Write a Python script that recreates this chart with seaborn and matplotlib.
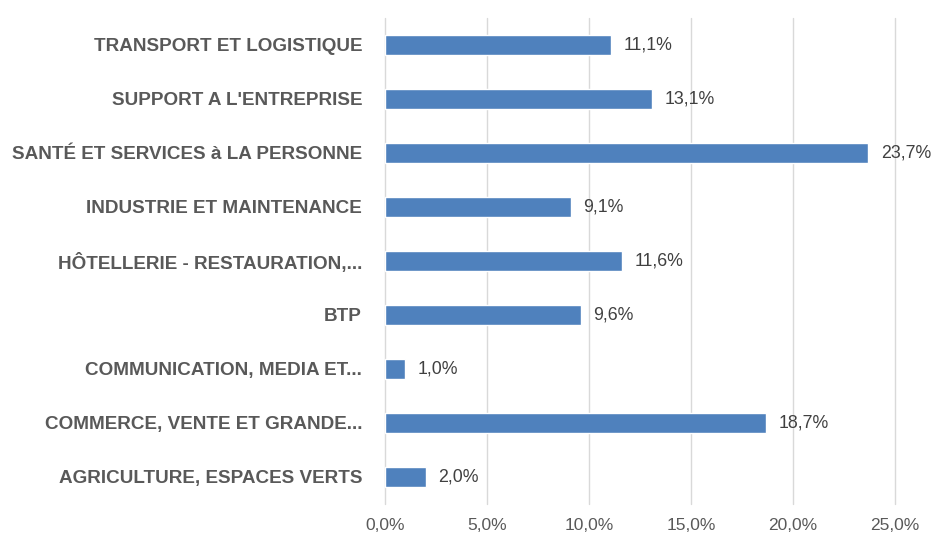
import matplotlib
matplotlib.use("Agg")
import matplotlib.pyplot as plt
import seaborn as sns
import pandas as pd

# categories from top to bottom, as in the chart
secteurs = [
    "TRANSPORT ET LOGISTIQUE",
    "SUPPORT A L'ENTREPRISE",
    "SANTÉ ET SERVICES à LA PERSONNE",
    "INDUSTRIE ET MAINTENANCE",
    "HÔTELLERIE - RESTAURATION,...",
    "BTP",
    "COMMUNICATION, MEDIA ET...",
    "COMMERCE, VENTE ET GRANDE...",
    "AGRICULTURE, ESPACES VERTS",
]
parts = [11.1, 13.1, 23.7, 9.1, 11.6, 9.6, 1.0, 18.7, 2.0]
ticks = [0, 5, 10, 15, 20, 25]

df = pd.DataFrame({"secteur": secteurs, "part": parts})

sns.set_style("white")
plt.rcParams["font.family"] = ["Liberation Sans", "DejaVu Sans"]

fig = plt.figure(figsize=(9.46, 5.45), dpi=100)
ax = fig.add_axes([385 / 946, 41 / 545, (895 - 385) / 946, 486 / 545])

sns.barplot(data=df, x="part", y="secteur", orient="h", color="#4f81bd",
            saturation=1, width=0.36, ax=ax, zorder=3)

ax.set_xlim(0, 25)
ax.set_xticks(ticks)
ax.set_xticklabels([f"{t:.1f}%".replace(".", ",") for t in ticks],
                   fontsize=12.5, color="#595959")
ax.grid(axis="x", color="#d9d9d9", linewidth=1, zorder=0)
for g in ax.xaxis.get_gridlines():
    g.set_clip_on(False)
ax.set_xlabel("")
ax.set_ylabel("")
for s in ax.spines.values():
    s.set_visible(False)
ax.tick_params(axis="both", length=0)
ax.tick_params(axis="x", pad=10)
ax.tick_params(axis="y", pad=16.5)
for lab in ax.get_yticklabels():
    lab.set_fontweight("bold")
    lab.set_fontsize(13.6)
    lab.set_color("#595959")

for i, v in enumerate(parts):
    ax.annotate(f"{v:.1f}%".replace(".", ","), (v, i), xytext=(9, 0),
                textcoords="offset points", va="center", ha="left",
                fontsize=12.8, color="#404040", annotation_clip=False)

fig.savefig("out.png", dpi=100)
